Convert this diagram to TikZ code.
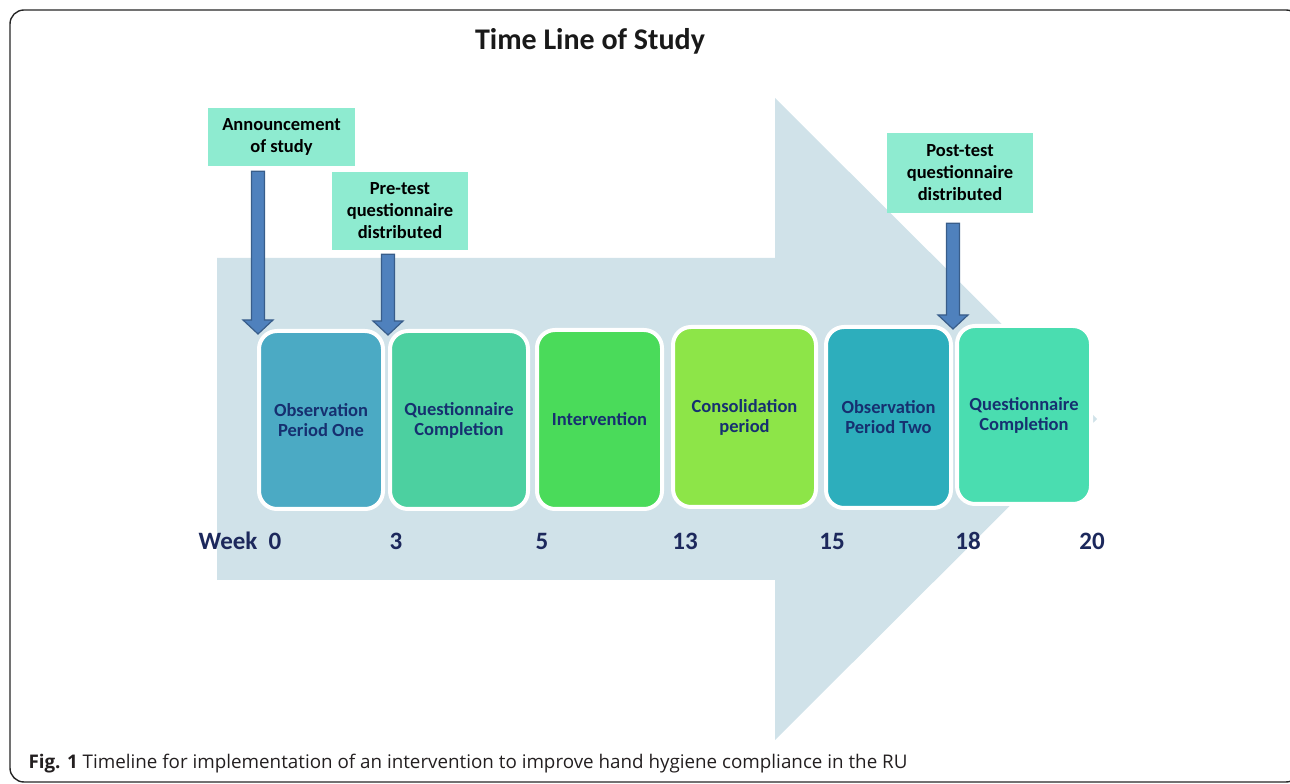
\documentclass[tikz,border=0pt]{standalone}
\usepackage{fontspec}
\setmainfont{Carlito}
\newfontfamily\capfont{Open Sans}
\usetikzlibrary{calc}

\definecolor{bgarrow}{RGB}{208,226,233}
\definecolor{tagfill}{RGB}{142,235,208}
\definecolor{navytext}{RGB}{22,48,112}
\definecolor{weektext}{RGB}{28,40,92}
\definecolor{pointerfill}{RGB}{79,129,189}
\definecolor{pointerline}{RGB}{56,93,138}
\definecolor{obsone}{RGB}{75,170,196}
\definecolor{qcone}{RGB}{76,208,160}
\definecolor{interv}{RGB}{74,219,90}
\definecolor{consol}{RGB}{141,229,72}
\definecolor{obstwo}{RGB}{45,174,188}
\definecolor{qctwo}{RGB}{74,221,176}
\definecolor{capgray}{RGB}{35,31,32}

\tikzset{
  phase/.style={draw=white, line width=4pt, rounded corners=18pt, inner sep=0pt,
    align=center, text=navytext, font=\fontsize{18.5}{20}\selectfont\bfseries},
  tag/.style={fill=tagfill, inner sep=0pt, align=center,
    font=\fontsize{18.5}{22}\selectfont\bfseries},
  weeklabel/.style={text=weektext, font=\fontsize{25}{26}\selectfont\bfseries},
  pointer/.style={fill=pointerfill, draw=pointerline, line width=1.2pt, line join=miter}
}

% block arrow pointing down from #1 to #2
\newcommand{\tagarrow}[2]{%
  \draw[pointer] ($(#1)+(-6.5,0)$) -- ($(#2)+(-6.5,14)$) -- ($(#2)+(-15,14)$) -- (#2)
    -- ($(#2)+(15,14)$) -- ($(#2)+(6.5,14)$) -- ($(#1)+(6.5,0)$) -- cycle;}

\begin{document}
\begin{tikzpicture}[x=1pt, y=1pt]
      \useasboundingbox (0,0) rectangle (1290,784);
      \clip (0,0) rectangle (1290,784);
      \draw[line width=1.4pt, draw=black!85, rounded corners=14pt] (10,2) rectangle (1300,774);
      \node[font=\fontsize{30}{32}\selectfont\bfseries, text=black!90] (title) at (590,743) {Time Line of Study};
      % big background arrow
      \fill[bgarrow] (217,526) -- (775,526) -- (775,686) -- (1097,365)
        -- (775,44) -- (775,204) -- (217,204) -- cycle;
      % phases
      \node[phase, fill=obsone, minimum width=124, minimum height=178] (obs1) at (321,364) {Observation\\Period One};
      \node[phase, fill=qcone,  minimum width=138, minimum height=178] (qc1)  at (459,364) {Questionnaire\\Completion};
      \node[phase, fill=interv, minimum width=125, minimum height=179] (int)  at (599.5,364.5) {Intervention};
      \node[phase, fill=consol, minimum width=143, minimum height=180] (cons) at (744.5,367) {Consolidation\\period};
      \node[phase, fill=obstwo, minimum width=125, minimum height=181] (obs2) at (888.5,366.5) {Observation\\Period Two};
      \node[phase, fill=qctwo,  minimum width=134, minimum height=178] (qc2)  at (1024,369) {Questionnaire\\Completion};
      % events
      \node[tag, minimum width=147, minimum height=58] (annc) at (281.5,647) {Announcement\\of study};
      \node[tag, minimum width=136, minimum height=78] (pre)  at (400,573) {Pre-test\\questionnaire\\distributed};
      \node[tag, minimum width=146, minimum height=80] (post) at (960,611) {Post-test\\questionnaire\\distributed};
      \coordinate (tipA) at ($(obs1.north west)+(1,-5)$);
      \coordinate (topA) at ($(tipA |- annc.south)+(0,-5)$);
      \coordinate (tipB) at ($(qc1.north west)+(0,-6)$);
      \coordinate (topB) at ($(tipB |- pre.south)+(0,-4)$);
      \coordinate (tipC) at ($(qc2.north west)+(-2,-5)$);
      \coordinate (topC) at ($(tipC |- post.south)+(0,-10)$);
      \tagarrow{topA}{tipA}
      \tagarrow{topB}{tipB}
      \tagarrow{topC}{tipC}
      % weeks
      \node[weeklabel] (wlabel) at (228,243) {Week};
      \foreach \wk/\px in {0/275,3/396,5/542,13/685,15/832,18/968,20/1092}
        \node[weeklabel] (w\wk) at (\px,243) {\wk};
      \node[anchor=base west, text=capgray, font=\capfont\fontsize{18.8}{20}\selectfont] (caption) at (25,15)
        {\textbf{Fig. 1} Timeline for implementation of an intervention to improve hand hygiene compliance in the RU};
    \end{tikzpicture}
\end{document}
